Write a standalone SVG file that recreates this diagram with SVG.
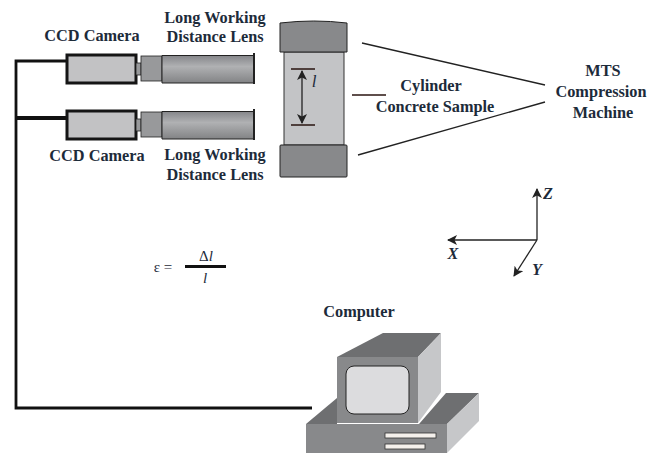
<svg xmlns="http://www.w3.org/2000/svg" width="647" height="453" viewBox="0 0 647 453">
<style>
text{font-family:"Liberation Serif",serif;font-weight:bold;font-size:16.300px;fill:#1d2b3a;text-anchor:middle}
.it{font-style:italic;font-weight:normal}
.cam{fill:#c2c2c4;stroke:#151515;stroke-width:3}
.coup{fill:#98999b;stroke:#222;stroke-width:.8}
.lens{fill:url(#lg);stroke:#222;stroke-width:1}
.line{fill:none;stroke:#222;stroke-width:1.300}
.red{fill:none;stroke:#2a1410;stroke-width:1.300}
.plate{fill:#88898b;stroke:#222;stroke-width:1}
</style>
<defs>
<linearGradient id="lg" x1="0" y1="0" x2="0" y2="1"><stop offset="0" stop-color="#85868a"/><stop offset=".4" stop-color="#b0b1b3"/><stop offset="1" stop-color="#828385"/></linearGradient>
<marker id="ah" viewBox="0 0 10 10" refX="9" refY="5" markerWidth="10" markerHeight="10" orient="auto-start-reverse" markerUnits="userSpaceOnUse"><path d="M0 0L10 5L0 10L2.500 5Z" fill="#222"/></marker>
</defs>
<g id="connectors">
<path d="M67 61H16V408H312" fill="none" stroke="#111" stroke-width="2.800"/>
<path d="M16 118H67" fill="none" stroke="#111" stroke-width="4"/>
<path class="line" d="M362 43L545 85M358 155L545 102"/>
<path class="red" d="M352 95H386"/>
</g>
<g id="camera-top">
<rect class="cam" x="67" y="55" width="69" height="28"/>
<rect class="coup" x="136" y="63" width="5" height="12"/>
<rect class="coup" x="141" y="56" width="21" height="25"/>
<path class="lens" d="M162 55.500H254V83H162Z"/>
<path d="M254 53V84" stroke="#222" stroke-width="2"/>
<text x="92" y="41">CCD Camera</text>
</g>
<g id="lens-top-label">
<text x="215" y="23">Long Working</text>
<text x="215" y="42">Distance Lens</text>
</g>
<g id="camera-bottom">
<rect class="cam" x="67" y="111" width="69" height="28"/>
<rect class="coup" x="136" y="119" width="5" height="12"/>
<rect class="coup" x="141" y="112" width="21" height="25"/>
<path class="lens" d="M162 111.500H254V139H162Z"/>
<path d="M254 109V140" stroke="#222" stroke-width="2"/>
<text x="97" y="161">CCD Camera</text>
</g>
<g id="lens-bottom-label">
<text x="215" y="160">Long Working</text>
<text x="215" y="180">Distance Lens</text>
</g>
<g id="sample">
<rect x="284" y="52" width="60" height="93" fill="#c3c4c6" stroke="#333" stroke-width="1"/>
<path class="plate" d="M280 23Q314 19 347 23V52H280Z"/>
<rect class="plate" x="280" y="145" width="67" height="32" rx="1"/>
<path class="red" d="M291 69H315M291 125H315"/>
<path class="line" d="M302 71V123" marker-start="url(#ah)" marker-end="url(#ah)"/>
<text class="it" x="314" y="87" style="font-size:17px">l</text>
</g>
<g id="sample-label">
<text x="431" y="91">Cylinder</text>
<text x="435" y="112">Concrete Sample</text>
</g>
<g id="machine">
<text x="603" y="76">MTS</text>
<text x="601" y="97">Compression</text>
<text x="603" y="118">Machine</text>
</g>
<g id="axes">
<path class="line" d="M537 240V189" marker-end="url(#ah)"/>
<path class="line" d="M537 240H448" marker-end="url(#ah)"/>
<path class="line" d="M537 240L514 276" marker-end="url(#ah)"/>
<text class="it" x="548" y="199" style="font-weight:bold">Z</text>
<text class="it" x="453" y="259" style="font-weight:bold">X</text>
<text class="it" x="537" y="275" style="font-weight:bold">Y</text>
</g>
<g id="formula">
<text x="163" y="272" style="font-weight:normal;font-size:15px">ε =</text>
<text x="206" y="261" style="font-weight:normal;font-size:15px">Δ<tspan font-style="italic">l</tspan></text>
<path d="M185 266.500H226" stroke="#111" stroke-width="3"/>
<text class="it" x="205" y="283" style="font-size:15px">l</text>
</g>
<g id="computer">
<text x="359" y="317">Computer</text>
<path d="M337 357L383 333H441L418 357Z" fill="#6e6f71"/>
<path d="M418 357L441 333V392L418 423Z" fill="#c6c7c9"/>
<path d="M337 357H418V423H337Z" fill="#88898b"/>
<rect x="346" y="366" width="63" height="48" rx="8" fill="#dcdcde" stroke="#222" stroke-width="1"/>
<path d="M306 424L337 398V424Z" fill="#6e6f71"/>
<path d="M419 424L446 393H479L447 424Z" fill="#6e6f71"/>
<path d="M447 424L479 393V421L447 453Z" fill="#c6c7c9"/>
<path d="M306 424H447V453H306Z" fill="#88898b"/>
<rect x="385" y="433" width="51" height="5" fill="#f4f0ec" stroke="#333" stroke-width=".8"/>
<rect x="385" y="444" width="40" height="5" fill="#f4f0ec" stroke="#333" stroke-width=".8"/>
</g>
</svg>
